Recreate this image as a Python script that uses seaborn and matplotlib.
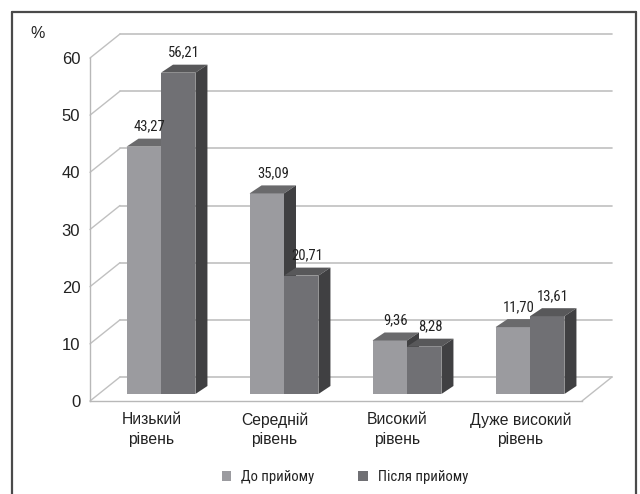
import numpy as np
import pandas as pd
import matplotlib
matplotlib.use("Agg")
import matplotlib.pyplot as plt
import seaborn as sns
from matplotlib.patches import Polygon, Patch
from matplotlib.lines import Line2D

# --- data -------------------------------------------------------------
levels = ["Низький\nрівень", "Середній\nрівень", "Високий\nрівень", "Дуже високий\nрівень"]
phases = ["До прийому", "Після прийому"]
before = [43.27, 35.09, 9.36, 11.70]
after = [56.21, 20.71, 8.28, 13.61]
y_ticks = [0, 10, 20, 30, 40, 50, 60]

# --- styles -----------------------------------------------------------
front_colors = ["#9b9b9f", "#707074"]
top_colors = ["#6a6a6c", "#58585a"]
side_color = "#404042"
grid_color = "#c0c0c0"
text_color = "#222222"

sns.set_theme(style="white")
plt.rcParams["font.family"] = ["Liberation Sans", "DejaVu Sans"]
narrow = ["Roboto Condensed", "Liberation Sans", "DejaVu Sans"]

df = pd.DataFrame({
    "level": pd.Categorical(levels * 2, categories=levels, ordered=True),
    "phase": [phases[0]] * 4 + [phases[1]] * 4,
    "value": before + after,
})

W, H = 640, 494
fig = plt.figure(figsize=(W / 100, H / 100), dpi=100)
ax = fig.add_axes([90 / W, 93 / H, 492 / W, 343 / H])

sns.barplot(data=df, x="level", y="value", hue="phase", order=levels,
            hue_order=phases, palette=front_colors, width=0.56,
            saturation=1, edgecolor="none", linewidth=0, legend=False,
            ax=ax, zorder=3)
bars = list(ax.patches)

ax.set_xlim(-0.5, 3.5)
ax.set_ylim(0, 60)

# pixel -> data unit conversion
px_x = 492 / 4.0
px_y = 343 / 60.0
def dx(p):
    return p / px_x
def dy(p):
    return p / px_y

# back wall depth and bar depth (in pixels)
wall_dx, wall_dy = 30, 24
bar_off_x, bar_off_y = 9.5, 7
depth_x, depth_y = 12, 8

# back wall grid lines and connectors to the front axis
for t in y_ticks:
    ax.plot([-0.5 + dx(wall_dx), 3.5 + dx(wall_dx)], [t + dy(wall_dy)] * 2,
            color=grid_color, lw=1.2, clip_on=False, zorder=1)
    ax.plot([-0.5, -0.5 + dx(wall_dx)], [t, t + dy(wall_dy)],
            color=grid_color, lw=1.0, clip_on=False, zorder=1)
# floor right edge
ax.plot([3.5, 3.5 + dx(wall_dx)], [0, dy(wall_dy)],
        color=grid_color, lw=1.0, clip_on=False, zorder=1)

# 3D bar faces
for i, bar in enumerate(bars):
    hue_i = i // 4
    x0 = bar.get_x() + dx(bar_off_x)
    w = bar.get_width()
    h = bar.get_height()
    y0 = dy(bar_off_y)
    bar.set_x(x0)
    bar.set_y(y0)
    bar.set_zorder(3 + hue_i)
    bar.set_clip_on(False)
    ddx, ddy = dx(depth_x), dy(depth_y)
    top = Polygon([(x0, y0 + h), (x0 + w, y0 + h), (x0 + w + ddx, y0 + h + ddy),
                   (x0 + ddx, y0 + h + ddy)], closed=True,
                  facecolor=top_colors[hue_i], edgecolor="none",
                  zorder=3 + hue_i, clip_on=False)
    side = Polygon([(x0 + w, y0), (x0 + w + ddx, y0 + ddy),
                    (x0 + w + ddx, y0 + h + ddy), (x0 + w, y0 + h)], closed=True,
                   facecolor=side_color, edgecolor="none",
                   zorder=3 + hue_i, clip_on=False)
    ax.add_patch(top)
    ax.add_patch(side)
    label = f"{h:.2f}".replace(".", ",")
    ax.text(x0 + w / 2 + dx(6), y0 + h + dy(20), label, ha="center",
            va="center", fontsize=10.5, family=narrow, color=text_color,
            zorder=6, clip_on=False)

# axes styling
for s in ["top", "right"]:
    ax.spines[s].set_visible(False)
for s in ["left", "bottom"]:
    ax.spines[s].set_color("#b8b8b8")
    ax.spines[s].set_linewidth(1.0)
    ax.spines[s].set_zorder(2)

ax.set_yticks(y_ticks)
ax.set_yticklabels([str(t) for t in y_ticks])
ax.tick_params(axis="y", length=4, width=1, color="#b8b8b8", pad=3,
               labelsize=12, labelcolor=text_color)

ax.set_xticks([-0.5, 0.5, 1.5, 2.5, 3.5])
ax.set_xticklabels([""] * 5)
ax.set_xticks(range(len(levels)), minor=True)
ax.set_xticklabels(levels, minor=True, linespacing=1.4)
ax.tick_params(axis="x", which="major", length=4, width=1, color="#b8b8b8")
ax.tick_params(axis="x", which="minor", length=0, pad=8, labelsize=11.3,
               labelcolor=text_color)
ax.set_xlabel("")
ax.set_ylabel("")
ax.patch.set_alpha(0)

fig.text(38 / W, 1 - 33 / H, "%", ha="center", va="center", fontsize=11.5,
         color=text_color)

# legend
handles = [Patch(facecolor=c, edgecolor="none") for c in front_colors]
fig.legend(handles, phases, loc="center", bbox_to_anchor=(345 / W, 1 - 477 / H),
           ncol=2, frameon=False, handlelength=0.65, handleheight=0.65,
           handletextpad=0.7, columnspacing=3.0,
           prop={"family": narrow, "size": 10.5}, labelcolor=text_color)

# outer frame (open at the bottom)
frame_kw = dict(color="#4a4a4a", lw=1.6, transform=fig.transFigure)
L, R, T = 12 / W, 636 / W, 1 - 12 / H
fig.add_artist(Line2D([L, L], [0, T], **frame_kw))
fig.add_artist(Line2D([L, R], [T, T], **frame_kw))
fig.add_artist(Line2D([R, R], [T, 0], **frame_kw))

fig.savefig("out.png", dpi=100, facecolor="white")
